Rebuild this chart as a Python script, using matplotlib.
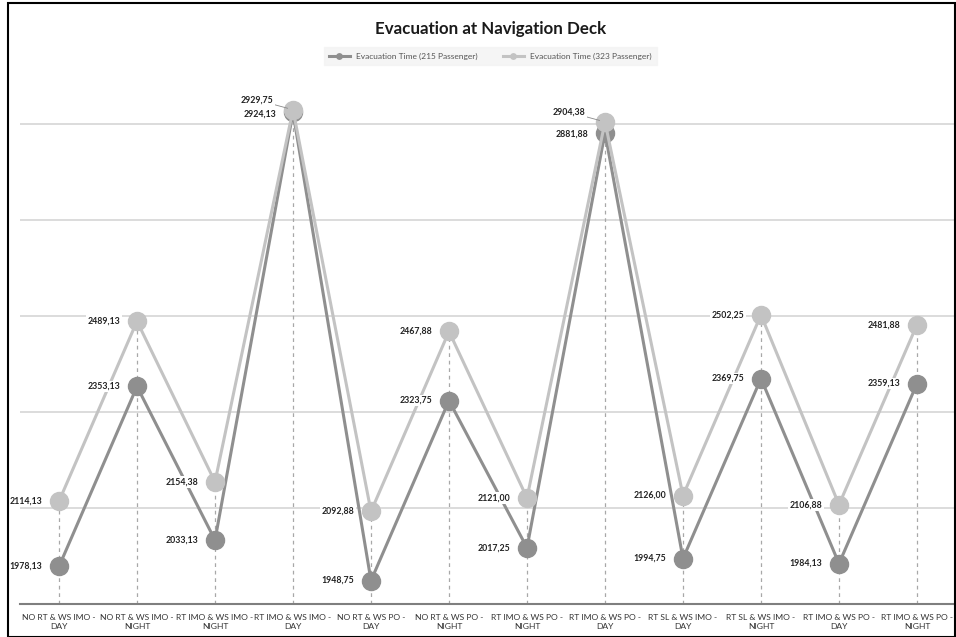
import numpy as np
import matplotlib
matplotlib.use("Agg")
from matplotlib import pyplot as plt
from matplotlib.patches import Rectangle

categories = [
    "NO RT & WS IMO -\nDAY", "NO RT & WS IMO -\nNIGHT", "RT IMO & WS IMO -\nNIGHT",
    "RT IMO & WS IMO -\nDAY", "NO RT & WS PO -\nDAY", "NO RT & WS PO -\nNIGHT",
    "RT IMO & WS PO -\nNIGHT", "RT IMO & WS PO -\nDAY", "RT SL & WS IMO -\nDAY",
    "RT SL & WS IMO -\nNIGHT", "RT IMO & WS PO -\nDAY", "RT IMO & WS PO -\nNIGHT",
]
time_215 = [1978.13, 2353.13, 2033.13, 2924.13, 1948.75, 2323.75,
            2017.25, 2881.88, 1994.75, 2369.75, 1984.13, 2359.13]
time_323 = [2114.13, 2489.13, 2154.38, 2929.75, 2092.88, 2467.88,
            2121.00, 2904.38, 2126.00, 2502.25, 2106.88, 2481.88]

plt.rcParams['font.family'] = ['Lato', 'DejaVu Sans']

c_dark = '#8f8f8f'
c_light = '#c3c3c3'

fig = plt.figure(figsize=(9.56, 6.37), dpi=100)
ax = fig.add_axes([20 / 956, 33 / 637, 936 / 956, 528 / 637])

x = np.arange(len(categories))

# gridlines
for g in [2100, 2300, 2500, 2700, 2900]:
    ax.axhline(g, color='#d6d6d6', lw=1.2, zorder=0)

# drop lines
for xi, a, b in zip(x, time_215, time_323):
    ax.plot([xi, xi], [1900, max(a, b)], color='#a8a8a8', lw=0.9, ls=(0, (3, 3)), zorder=1)

ax.plot(x, time_215, color=c_dark, lw=2.2, marker='o', ms=13, mec=c_dark,
        label='Evacuation Time (215 Passenger)', zorder=3)
ax.plot(x, time_323, color=c_light, lw=2.2, marker='o', ms=13, mec=c_light,
        label='Evacuation Time (323 Passenger)', zorder=4)

def fmt(v):
    return f"{v:.2f}".replace('.', ',')

lbl = dict(textcoords='offset points', ha='right', va='center', fontsize=6.3,
           fontweight='bold', color='#222222', zorder=6,
           bbox=dict(boxstyle='square,pad=0.15', fc='white', ec='none'))

for i, (a, b) in enumerate(zip(time_215, time_323)):
    if b - a < 40:
        ax.annotate(fmt(b), (i, b), xytext=(-14, 7),
                    arrowprops=dict(arrowstyle='-', color='#888888', lw=0.6, shrinkA=0, shrinkB=4),
                    **lbl)
        ax.annotate(fmt(a), (i, a), xytext=(-12, -1), **lbl)
    else:
        ax.annotate(fmt(a), (i, a), xytext=(-12, 0), **lbl)
        ax.annotate(fmt(b), (i, b), xytext=(-12, 0), **lbl)

ax.set_xlim(-0.5, len(categories) - 0.5)
ax.set_ylim(1900, 3000)
ax.set_xticks(x)
ax.set_xticklabels(categories, fontsize=6.1, color='#333333', linespacing=1.3)
ax.tick_params(axis='x', length=0, pad=7)
ax.set_yticks([])
for s in ['top', 'right', 'left']:
    ax.spines[s].set_visible(False)
ax.spines['bottom'].set_color('#7f7f7f')
ax.spines['bottom'].set_linewidth(1.5)

fig.text(0.513, 0.955, 'Evacuation at Navigation Deck', ha='center', va='center',
         fontsize=12.2, fontweight='bold', color='#1a1a1a')

leg = fig.legend(loc='center', bbox_to_anchor=(0.513, 0.912), ncol=2, fontsize=6,
                 frameon=True, fancybox=False, markerscale=0.3, handlelength=2.5,
                 columnspacing=3, borderpad=0.6)
leg.get_frame().set_facecolor('#f3f3f3')
leg.get_frame().set_edgecolor('#f3f3f3')
for t in leg.get_texts():
    t.set_color('#555555')

fig.patches.append(Rectangle((8 / 956, 0), 947 / 956, 634 / 637, transform=fig.transFigure,
                             fill=False, edgecolor='black', lw=1.5))

fig.savefig('out.png', dpi=100)
